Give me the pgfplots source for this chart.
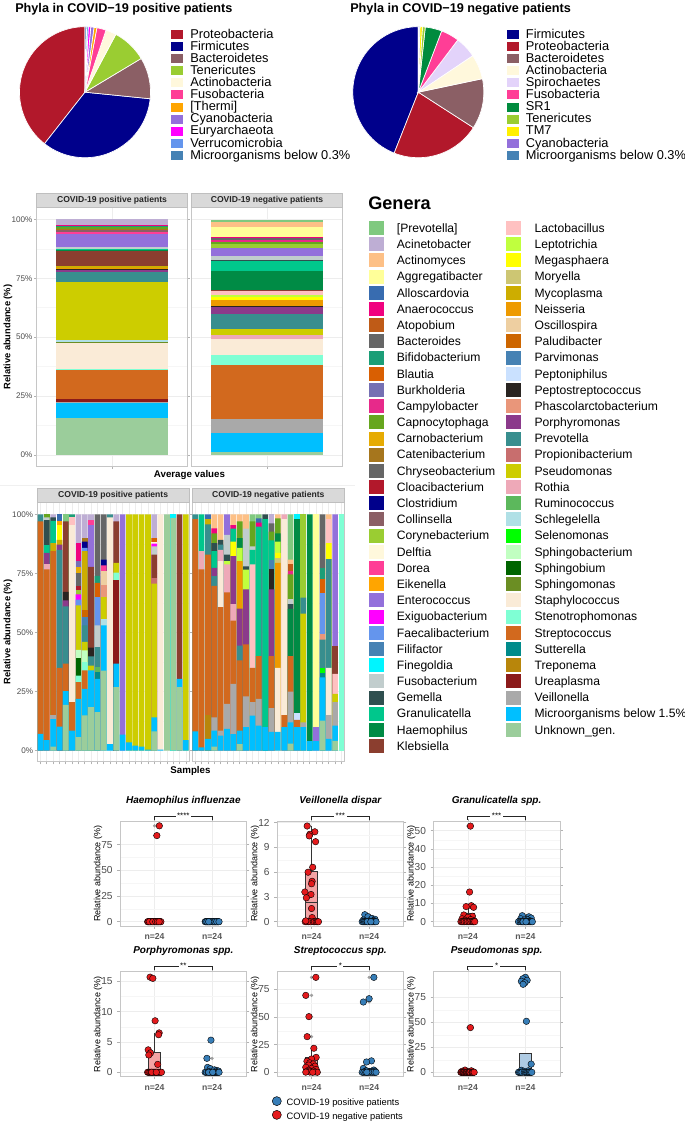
\documentclass[border=0pt]{standalone}
\usepackage{fontspec}
\setmainfont{Liberation Sans}
\usepackage{pgfplots}
\pgfplotsset{compat=1.18}
\usepgfplotslibrary{statistics}

% ---------- genera colours ----------
\definecolor{gPrevB}{HTML}{7FC97F}\definecolor{gAcin}{HTML}{BEAED4}\definecolor{gActi}{HTML}{FDC086}
\definecolor{gAggr}{HTML}{FFFF99}\definecolor{gAllo}{HTML}{386CB0}\definecolor{gAnae}{HTML}{F0027F}
\definecolor{gAtop}{HTML}{BF5B17}\definecolor{gBact}{HTML}{666666}\definecolor{gBifi}{HTML}{1B9E77}
\definecolor{gBlau}{HTML}{D95F02}\definecolor{gBurk}{HTML}{7570B3}\definecolor{gCamp}{HTML}{E7298A}
\definecolor{gCapn}{HTML}{66A61E}\definecolor{gCarn}{HTML}{E6AB02}\definecolor{gCate}{HTML}{A6761D}
\definecolor{gChry}{HTML}{666666}\definecolor{gCloa}{HTML}{B2182B}\definecolor{gClos}{HTML}{00008B}
\definecolor{gColl}{HTML}{8B5F65}\definecolor{gCory}{HTML}{9ACD32}\definecolor{gDelf}{HTML}{FFF8DC}
\definecolor{gDore}{HTML}{FF3E96}\definecolor{gEike}{HTML}{FFA500}\definecolor{gEnte}{HTML}{9370DB}
\definecolor{gExig}{HTML}{FF00FF}\definecolor{gFaec}{HTML}{6495ED}\definecolor{gFili}{HTML}{4682B4}
\definecolor{gFine}{HTML}{00F5FF}\definecolor{gFuso}{HTML}{C1CDCD}\definecolor{gGeme}{HTML}{2F4F4F}
\definecolor{gGran}{HTML}{00C78C}\definecolor{gHaem}{HTML}{008B45}\definecolor{gKleb}{HTML}{8B3E2F}
\definecolor{gLact}{HTML}{FFC1C1}\definecolor{gLept}{HTML}{C0FF3E}\definecolor{gMega}{HTML}{FFFF00}
\definecolor{gMory}{HTML}{CDC673}\definecolor{gMyco}{HTML}{CDAD00}\definecolor{gNeis}{HTML}{EE9A00}
\definecolor{gOsci}{HTML}{EECFA1}\definecolor{gPalu}{HTML}{CD6600}\definecolor{gParv}{HTML}{4682B4}
\definecolor{gPept}{HTML}{CAE1FF}\definecolor{gPstr}{HTML}{292421}\definecolor{gPhas}{HTML}{E9967A}
\definecolor{gPorp}{HTML}{8B3A8B}\definecolor{gPrev}{HTML}{388E8E}\definecolor{gProp}{HTML}{C86E6E}
\definecolor{gPseu}{HTML}{CDCD00}\definecolor{gRoth}{HTML}{EEA9B8}\definecolor{gRumi}{HTML}{5CB85C}
\definecolor{gSchl}{HTML}{B0E0E6}\definecolor{gSele}{HTML}{00FF00}\definecolor{gSbac}{HTML}{C1FFC1}
\definecolor{gSbiu}{HTML}{006400}\definecolor{gSmon}{HTML}{6B8E23}\definecolor{gStap}{HTML}{FAEBD7}
\definecolor{gSten}{HTML}{7FFFD4}\definecolor{gStre}{HTML}{D2691E}\definecolor{gSutt}{HTML}{008B8B}
\definecolor{gTrep}{HTML}{B8860B}\definecolor{gUrea}{HTML}{8B1A1A}\definecolor{gVeil}{HTML}{A9A9A9}
\definecolor{gMicr}{HTML}{00BFFF}\definecolor{gUnkn}{HTML}{9BCD9B}
% ---------- phyla colours ----------
\definecolor{pProt}{HTML}{B2182B}\definecolor{pFirm}{HTML}{00008B}\definecolor{pBact}{HTML}{8B5F65}
\definecolor{pTene}{HTML}{9ACD32}\definecolor{pActi}{HTML}{FFF8DC}\definecolor{pFuso}{HTML}{FF3E96}
\definecolor{pTher}{HTML}{FFA500}\definecolor{pCyan}{HTML}{9370DB}\definecolor{pEury}{HTML}{FF00FF}
\definecolor{pVerr}{HTML}{6495ED}\definecolor{pMicr}{HTML}{4682B4}\definecolor{pSpir}{HTML}{E3D3FA}
\definecolor{pSR}{HTML}{008B3E}\definecolor{pTM}{HTML}{FFF000}
% ---------- misc ----------
\definecolor{stripg}{HTML}{D9D9D9}\definecolor{ptred}{HTML}{E41A1C}\definecolor{ptblue}{HTML}{377EB8}
\definecolor{boxred}{HTML}{F4A3A4}\definecolor{boxblue}{HTML}{AFCBE3}

\pgfplotsset{
  /pgf/number format/assume math mode=true,
  gg/.style={scale only axis, clip=false,
    axis line style={gray!45, line width=0.5pt},
    tick style={gray!60, line width=0.5pt}, tick align=outside,
    major tick length=2pt, minor tick length=0pt,
    grid=both, major grid style={gray!14, line width=0.5pt},
    minor grid style={gray!7, line width=0.35pt},
    ticklabel style={text=black!70}},
  bars/.style={gg, ymin=-4.7, ymax=105.1, ytick={0,25,50,75,100},
    minor ytick={12.5,37.5,62.5,87.5}, xticklabels={},
    yticklabel style={font=\fontsize{6.1}{7}\selectfont, inner sep=1pt}},
  leftbars/.style={yticklabels={0\%,25\%,50\%,75\%,100\%}},
  rightbars/.style={yticklabels={}, ytick style={draw=none}},
  smp/.style={bars, xmin=0.5, xmax=24.5, xtick={1,...,24},
    every axis plot/.append style={ybar, bar width=0.9, bar shift=0pt, draw=none}},
  avg/.style={bars, xmin=0.4, xmax=1.6, xtick={1}, ybar stacked, bar width=0.9,
    every axis plot/.append style={draw=none}},
  bx/.style={gg, width=95pt, xmin=0.4, xmax=2.6, xtick={1,2}, xticklabels={{n=24},{n=24}},
    boxplot/draw direction=y,
    xticklabel style={font=\fontsize{6.5}{7}\selectfont\bfseries, text=black!65},
    yticklabel style={font=\fontsize{7.6}{8}\selectfont},
    minor y tick num=1, ylabel={Relative abundance (\%)},
    ylabel style={at={(axis description cs:-0.174,0.5)}, anchor=center, font=\fontsize{6.75}{7}\selectfont},
    title style={at={(axis description cs:0.5,1.2)}, anchor=center, yshift=-6pt, font=\fontsize{7.5}{8}\selectfont\bfseries\itshape}},
  gkey/.style={legend image code/.code={\fill[##1] (0pt,-4.6pt) rectangle (11.25pt,5.9pt);}},
  pkey/.style={legend image code/.code={\fill[##1] (0pt,-3.2pt) rectangle (9.5pt,4.3pt);}},
  ckey/.style={legend image code/.code={\draw[##1] plot coordinates {(3.4pt,1.5pt)};}},
  hid/.style={hide axis, scale only axis, width=5pt, height=5pt, xmin=0, xmax=1, ymin=0, ymax=1,
    anchor=north west, legend cell align=left},
}
\newcommand{\slice}[3]{\addplot[fill=#1, draw=white, line width=0.5pt, domain={90+3.6*#2}:{90+3.6*#3}, samples=50] ({cos(x)},{sin(x)}) -- (axis cs:0,0) -- cycle;}
\newcommand{\stripbox}{\draw[fill=stripg, draw=gray!50, line width=0.5pt] (axis description cs:0,1) rectangle (axis description cs:1,1.053);}
\newcommand{\strip}[1]{\stripbox
  \node[font=\fontsize{6.45}{7}\selectfont\bfseries, text=black!85] at (axis description cs:0.5,1.0265) {#1};}
\newcommand{\sig}[1]{\draw[black!85, line width=0.6pt] (axis description cs:0.2727,1.02) -- (axis description cs:0.2727,1.055) -- (axis description cs:0.7273,1.055) -- (axis description cs:0.7273,1.02);
  \node[fill=white, inner sep=1.2pt, font=\fontsize{6}{6}\selectfont] at (axis description cs:0.5,1.055) {#1};}
\newcommand{\G}[2]{\addlegendimage{gkey, fill=#1, draw=none}\addlegendentry{#2}}
\newcommand{\bxpts}[2]{\addplot[only marks, mark=*, mark size=2.45pt, mark options={fill=#1, draw=black, line width=0.3pt}] coordinates {#2};}
\newcommand{\outl}[1]{\addplot[only marks, mark=*, mark size=1pt, color=gray!75] coordinates {#1};}

\begin{document}
\begin{tikzpicture}
\useasboundingbox (0pt,0pt) rectangle (513.75pt,843pt);
\fill[white] (0pt,0pt) rectangle (513.75pt,843pt);

% ================= PIE CHARTS =================
\node[anchor=base west, inner sep=0pt, font=\fontsize{9.5}{10}\selectfont\bfseries] at (11.25pt,833.475pt) {Phyla in COVID−19 positive patients};
\node[anchor=base west, inner sep=0pt, font=\fontsize{9.5}{10}\selectfont\bfseries] at (262.5pt,833.475pt) {Phyla in COVID−19 negative patients};

\begin{axis}[scale only axis, hide axis, clip=false, width=98.25pt, height=98.25pt,
  xmin=-1, xmax=1, ymin=-1, ymax=1, at={(14.625pt,724.725pt)}, anchor=south west,
  every axis plot/.append style={pkey}, legend cell align=left,
  legend style={at={(1.149,0.985)}, anchor=north west, draw=none, fill=none, inner sep=0pt,
    font=\fontsize{9.6}{10}\selectfont, nodes={inner sep=0pt, text height=6.9pt, text depth=2.15pt},
    row sep=0pt, /tikz/every odd column/.append style={column sep=5pt}}]
\slice{pProt}{0}{39.4}\addlegendentry{Proteobacteria}
\slice{pFirm}{39.4}{73.4}\addlegendentry{Firmicutes}
\slice{pBact}{73.4}{83.6}\addlegendentry{Bacteroidetes}
\slice{pTene}{83.6}{92.2}\addlegendentry{Tenericutes}
\slice{pActi}{92.2}{94.8}\addlegendentry{Actinobacteria}
\slice{pFuso}{94.8}{97.1}\addlegendentry{Fusobacteria}
\slice{pTher}{97.1}{97.8}\addlegendentry{[Thermi]}
\slice{pCyan}{97.8}{98.6}\addlegendentry{Cyanobacteria}
\slice{pEury}{98.6}{99.2}\addlegendentry{Euryarchaeota}
\slice{pVerr}{99.2}{99.6}\addlegendentry{Verrucomicrobia}
\slice{pMicr}{99.6}{100}\addlegendentry{Microorganisms below 0.3\%}
\end{axis}

\begin{axis}[scale only axis, hide axis, clip=false, width=98.25pt, height=98.25pt,
  xmin=-1, xmax=1, ymin=-1, ymax=1, at={(264.6pt,724.725pt)}, anchor=south west,
  every axis plot/.append style={pkey}, legend cell align=left,
  legend style={at={(1.167,0.985)}, anchor=north west, draw=none, fill=none, inner sep=0pt,
    font=\fontsize{9.6}{10}\selectfont, nodes={inner sep=0pt, text height=6.9pt, text depth=2.15pt},
    row sep=0pt, /tikz/every odd column/.append style={column sep=5pt}}]
\slice{pFirm}{0}{44.0}\addlegendentry{Firmicutes}
\slice{pProt}{44.0}{65.9}\addlegendentry{Proteobacteria}
\slice{pBact}{65.9}{78.3}\addlegendentry{Bacteroidetes}
\slice{pActi}{78.3}{84.4}\addlegendentry{Actinobacteria}
\slice{pSpir}{84.4}{89.7}\addlegendentry{Spirochaetes}
\slice{pFuso}{89.7}{94.2}\addlegendentry{Fusobacteria}
\slice{pSR}{94.2}{98.3}\addlegendentry{SR1}
\slice{pTene}{98.3}{99.0}\addlegendentry{Tenericutes}
\slice{pTM}{99.0}{99.6}\addlegendentry{TM7}
\slice{pCyan}{99.6}{99.8}\addlegendentry{Cyanobacteria}
\slice{pMicr}{99.8}{100}\addlegendentry{Microorganisms below 0.3\%}
\end{axis}

% ================= AVERAGE VALUES =================
\node[rotate=90, font=\fontsize{7}{8}\selectfont\bfseries] at (6pt,590.25pt) {Relative abundance (\%)};
\node[font=\fontsize{7.3}{8}\selectfont\bfseries] at (142.125pt,486.75pt) {Average values};
\draw[gray!12, line width=0.5pt] (0pt,479.25pt) -- (266.25pt,479.25pt);

\begin{axis}[avg, leftbars, at={(27.525pt,493.5pt)}, anchor=south west, width=112.95pt, height=194pt]
\addplot[fill=gUnkn] coordinates {(1,15.6)};
\addplot[fill=gMicr] coordinates {(1,6.6)};
\addplot[fill=gVeil] coordinates {(1,0.4)};
\addplot[fill=gUrea] coordinates {(1,1.3)};
\addplot[fill=gStre] coordinates {(1,12.2)};
\addplot[fill=gSten] coordinates {(1,0.5)};
\addplot[fill=gStap] coordinates {(1,11.0)};
\addplot[fill=gSmon] coordinates {(1,0.5)};
\addplot[fill=gSchl] coordinates {(1,0.6)};
\addplot[fill=gPseu] coordinates {(1,24.8)};
\addplot[fill=gPrev] coordinates {(1,4.2)};
\addplot[fill=gPorp] coordinates {(1,0.7)};
\addplot[fill=gPstr] coordinates {(1,0.4)};
\addplot[fill=gNeis] coordinates {(1,0.6)};
\addplot[fill=gMyco] coordinates {(1,0.8)};
\addplot[fill=gKleb] coordinates {(1,6.4)};
\addplot[fill=gHaem] coordinates {(1,0.5)};
\addplot[fill=gGran] coordinates {(1,0.3)};
\addplot[fill=gFuso] coordinates {(1,1.0)};
\addplot[fill=gEnte] coordinates {(1,5.5)};
\addplot[fill=gDore] coordinates {(1,0.6)};
\addplot[fill=gColl] coordinates {(1,0.8)};
\addplot[fill=gCate] coordinates {(1,0.6)};
\addplot[fill=gCapn] coordinates {(1,0.8)};
\addplot[fill=gBifi] coordinates {(1,0.6)};
\addplot[fill=gAnae] coordinates {(1,0.4)};
\addplot[fill=gAcin] coordinates {(1,2.3)};
\stripbox
\end{axis}

\begin{axis}[avg, rightbars, at={(143.775pt,493.5pt)}, anchor=south west, width=112.95pt, height=194pt]
\addplot[fill=gUnkn] coordinates {(1,1.3)};
\addplot[fill=gMicr] coordinates {(1,7.9)};
\addplot[fill=gVeil] coordinates {(1,6.2)};
\addplot[fill=gStre] coordinates {(1,22.8)};
\addplot[fill=gSten] coordinates {(1,4.2)};
\addplot[fill=gStap] coordinates {(1,6.6)};
\addplot[fill=gRoth] coordinates {(1,1.8)};
\addplot[fill=gPseu] coordinates {(1,2.8)};
\addplot[fill=gPrev] coordinates {(1,6.4)};
\addplot[fill=gPorp] coordinates {(1,2.8)};
\addplot[fill=gPstr] coordinates {(1,0.6)};
\addplot[fill=gNeis] coordinates {(1,2.5)};
\addplot[fill=gMega] coordinates {(1,1.1)};
\addplot[fill=gLept] coordinates {(1,0.7)};
\addplot[fill=gLact] coordinates {(1,1.8)};
\addplot[fill=gKleb] coordinates {(1,0.6)};
\addplot[fill=gHaem] coordinates {(1,7.8)};
\addplot[fill=gGran] coordinates {(1,4.4)};
\addplot[fill=gGeme] coordinates {(1,0.6)};
\addplot[fill=gFuso] coordinates {(1,1.4)};
\addplot[fill=gEnte] coordinates {(1,3.5)};
\addplot[fill=gCory] coordinates {(1,1.8)};
\addplot[fill=gCapn] coordinates {(1,0.9)};
\addplot[fill=gCamp] coordinates {(1,0.6)};
\addplot[fill=gBact] coordinates {(1,0.9)};
\addplot[fill=gAnae] coordinates {(1,0.4)};
\addplot[fill=gAllo] coordinates {(1,0.3)};
\addplot[fill=gAggr] coordinates {(1,4.0)};
\addplot[fill=gActi] coordinates {(1,2.1)};
\addplot[fill=gPrevB] coordinates {(1,1.0)};
\stripbox
\end{axis}
\node[font=\fontsize{6.45}{7}\selectfont\bfseries, text=black!85] at (84pt,692.8pt) {COVID-19 positive patients};
\node[font=\fontsize{6.45}{7}\selectfont\bfseries, text=black!85] at (200.25pt,692.8pt) {COVID-19 negative patients};

% ================= SAMPLES =================
\node[rotate=90, font=\fontsize{7}{8}\selectfont\bfseries] at (6pt,369pt) {Relative abundance (\%)};
\node[font=\fontsize{7.3}{8}\selectfont\bfseries] at (142.875pt,264.975pt) {Samples};

\begin{axis}[smp, leftbars, at={(27.975pt,271.65pt)}, anchor=south west, width=113.8pt, height=194.6pt]
\addplot[fill=gPrevB] coordinates {(5,100)};
\addplot[fill=gAcin] coordinates {(3,100)(7,100)(8,100)(9,100)(13,100)(19,100)};
\addplot[fill=gAllo] coordinates {(4,100)};
\addplot[fill=gAnae] coordinates {(7,87.8)};
\addplot[fill=gBact] coordinates {(10,100)(11,100)};
\addplot[fill=gBifi] coordinates {(6,100)(10,74)};
\addplot[fill=gBlau] coordinates {(10,71)(19,90)};
\addplot[fill=gBurk] coordinates {(7,80.2)};
\addplot[fill=gCapn] coordinates {(2,100)};
\addplot[fill=gCarn] coordinates {(7,77.8)};
\addplot[fill=gCate] coordinates {(8,90)};
\addplot[fill=gChry] coordinates {(7,75)};
\addplot[fill=gCloa] coordinates {(7,69.6)};
\addplot[fill=gClos] coordinates {(8,88.5)(11,80.9)};
\addplot[fill=gCory] coordinates {(7,68.2)};
\addplot[fill=gDelf] coordinates {(19,88.5)};
\addplot[fill=gDore] coordinates {(9,97.6)(11,78.4)};
\addplot[fill=gEike] coordinates {(4,97.3)};
\addplot[fill=gEnte] coordinates {(9,95.5)(14,100)};
\addplot[fill=gExig] coordinates {(7,66.2)(19,87.6)};
\addplot[fill=gFaec] coordinates {(7,63.9)(8,85.8)(10,65)};
\addplot[fill=gFine] coordinates {(22,100)};
\addplot[fill=gFuso] coordinates {(2,98.7)(10,53)(19,86.5)};
\addplot[fill=gGeme] coordinates {(2,97.6)(3,98.7)};
\addplot[fill=gGran] coordinates {(2,87)(3,97.3)};
\addplot[fill=gKleb] coordinates {(5,97)(9,77.8)(13,97)(19,83)(23,100)};
\addplot[fill=gLact] coordinates {(6,98.7)};
\addplot[fill=gMega] coordinates {(4,95.5)};
\addplot[fill=gMyco] coordinates {(3,87.8)(4,89.2)(8,84.4)};
\addplot[fill=gOsci] coordinates {(11,76)};
\addplot[fill=gPalu] coordinates {(8,59.4)};
\addplot[fill=gParv] coordinates {(8,56.6)};
\addplot[fill=gPstr] coordinates {(5,67.2)(9,43.6)};
\addplot[fill=gPhas] coordinates {(11,70)};
\addplot[fill=gPorp] coordinates {(2,83.7)(4,87.2)(5,63.6)};
\addplot[fill=gPrev] coordinates {(1,100)(4,85)(5,61.1)(8,53)(9,39.9)(10,43.8)(12,100)};
\addplot[fill=gProp] coordinates {(19,73.2)};
\addplot[fill=gPseu] coordinates {(7,61.5)(8,46)(9,36)(11,65)(13,79.5)(15,100)(16,100)(17,100)(18,100)(19,70.7)(24,100)};
\addplot[fill=gRoth] coordinates {(2,78.8)};
\addplot[fill=gRumi] coordinates {(10,35.4)};
\addplot[fill=gSchl] coordinates {(11,55.9)};
\addplot[fill=gSbac] coordinates {(7,42.7)(8,42.4)};
\addplot[fill=gSbiu] coordinates {(7,39.3)};
\addplot[fill=gStap] coordinates {(6,95.5)(12,98.7)(20,100)};
\addplot[fill=gSten] coordinates {(7,31.8)(8,37.5)(13,75.3)};
\addplot[fill=gStre] coordinates {(1,97)(2,76.7)(3,84.4)(4,35)(5,36.8)(6,20.5)(7,29)(8,34)};
\addplot[fill=gSutt] coordinates {(10,33.3)};
\addplot[fill=gUrea] coordinates {(13,72.2)};
\addplot[fill=gVeil] coordinates {(3,15.3)};
\addplot[fill=gMicr] coordinates {(1,7.1)(2,4.5)(3,13.4)(4,10.2)(5,25.2)(6,8.5)(7,21.9)(8,26.2)(9,34)(10,30.4)(11,53)(12,2.8)(13,36.8)(14,6.8)(15,3.5)(16,2.1)(17,1.7)(18,0.5)(19,14.1)(20,0.5)(23,30.4)(24,4.5)};
\addplot[fill=gUnkn] coordinates {(3,1.7)(5,19.4)(7,5.7)(8,14.9)(9,18.4)(10,16.3)(11,33.9)(13,26.9)(19,8.2)(21,100)(22,98.5)(23,26.9)};
\strip{COVID-19 positive patients}
\end{axis}

\begin{axis}[smp, rightbars, at={(144pt,271.65pt)}, anchor=south west, width=114.5pt, height=194.6pt]
\addplot[fill=gPrevB] coordinates {(10,100)(11,100)(16,100)};
\addplot[fill=gAcin] coordinates {(13,100)};
\addplot[fill=gActi] coordinates {(4,100)(5,100)(7,100)(8,100)(9,100)(14,100)(16,80.9)(22,100)};
\addplot[fill=gAggr] coordinates {(20,100)};
\addplot[fill=gAllo] coordinates {(3,100)(11,98.3)};
\addplot[fill=gAnae] coordinates {(4,94.1)(7,95.5)(11,96.5)};
\addplot[fill=gAtop] coordinates {(16,78.8)};
\addplot[fill=gBact] coordinates {(13,96.2)(21,100)};
\addplot[fill=gBifi] coordinates {(21,77.4)};
\addplot[fill=gBlau] coordinates {(21,72.5)};
\addplot[fill=gCamp] coordinates {(16,76)};
\addplot[fill=gCapn] coordinates {(4,92)(8,97)(10,97)(13,92.7)(14,98.3)(16,74.6)};
\addplot[fill=gCory] coordinates {(18,100)};
\addplot[fill=gEnte] coordinates {(6,100)(20,10)(23,100)};
\addplot[fill=gFaec] coordinates {(21,66.9)};
\addplot[fill=gFine] coordinates {(17,100)};
\addplot[fill=gFuso] coordinates {(6,91.3)(9,94)(10,86.5)(16,64.1)};
\addplot[fill=gGeme] coordinates {(4,87.8)(5,89.2)(6,83)(9,78)(12,100)(16,62)};
\addplot[fill=gGran] coordinates {(2,100)(4,84.4)(7,94)(10,85)(11,94.8)(12,98)(13,89)};
\addplot[fill=gHaem] coordinates {(8,90)(14,92)(16,60)(17,98)(19,100)};
\addplot[fill=gKleb] coordinates {(23,44.5)};
\addplot[fill=gLact] coordinates {(10,78.8)(22,98)(23,32.5)};
\addplot[fill=gLept] coordinates {(6,80.2)(8,85.8)(9,76.6)(14,88.5)};
\addplot[fill=gMega] coordinates {(7,88.5)(14,83.7)(22,87.8)};
\addplot[fill=gMory] coordinates {(14,81.6)};
\addplot[fill=gMyco] coordinates {(3,98)};
\addplot[fill=gNeis] coordinates {(8,80.2)(14,79.5)};
\addplot[fill=gParv] coordinates {(13,80.9)};
\addplot[fill=gPept] coordinates {(17,16)};
\addplot[fill=gPstr] coordinates {(13,76.7)};
\addplot[fill=gPhas] coordinates {(21,49.5)};
\addplot[fill=gPorp] coordinates {(4,77.4)(7,82.3)(8,60.1)(9,68.3)(13,68.3)};
\addplot[fill=gPrev] coordinates {(1,100)(3,95.8)(4,73.9)(5,87.2)(8,44.5)(18,64.8)(21,47)(22,81.1)};
\addplot[fill=gPseu] coordinates {(18,58)(23,24)};
\addplot[fill=gRoth] coordinates {(2,84.4)(5,85)(6,78.8)(7,62)(15,100)};
\addplot[fill=gSele] coordinates {(21,35)};
\addplot[fill=gStap] coordinates {(5,80.2)(14,35)(15,98)(22,35)};
\addplot[fill=gSten] coordinates {(24,100)};
\addplot[fill=gStre] coordinates {(1,98)(2,76.7)(3,83)(4,69.7)(5,60.8)(6,67)(7,55)(8,38.2)(9,45)(10,35)(11,40)(13,40)(15,15)(16,40)(17,13)};
\addplot[fill=gSutt] coordinates {(21,33)};
\addplot[fill=gTrep] coordinates {(3,15.3)};
\addplot[fill=gVeil] coordinates {(4,14.1)(5,8.5)(6,19.8)(7,28.3)(9,23)(10,20.5)(11,21.9)(13,18)(16,25)(18,12)(22,15)(23,20.5)};
\addplot[fill=gMicr] coordinates {(1,8.2)(2,1.4)(3,5)(4,8.5)(5,6.4)(6,9.2)(7,7)(8,8.5)(9,10)(10,14.8)(11,10.6)(12,10)(13,8)(14,8)(15,10)(16,12)(17,10)(18,10)(19,4)(20,4)(21,31)(22,5)(23,10.6)};
\addplot[fill=gUnkn] coordinates {(4,1.7)(8,2.8)(16,3)(21,12.7)(23,4.2)};
\strip{COVID-19 negative patients}
\end{axis}

% ================= GENERA LEGEND =================
\node[anchor=base west, inner sep=0pt, font=\fontsize{13.6}{14}\selectfont\bfseries] at (276pt,686.1pt) {Genera};
\begin{axis}[hid, at={(276.225pt,677.55pt)},
  legend style={at={(0,1)}, anchor=north west, draw=none, fill=none, inner sep=0pt,
    font=\fontsize{9.1}{10}\selectfont, nodes={inner sep=0pt, text height=8.6pt, text depth=3.54pt},
    row sep=0pt, /tikz/every odd column/.append style={column sep=10pt}}]
\G{gPrevB}{[Prevotella]}\G{gAcin}{Acinetobacter}\G{gActi}{Actinomyces}\G{gAggr}{Aggregatibacter}
\G{gAllo}{Alloscardovia}\G{gAnae}{Anaerococcus}\G{gAtop}{Atopobium}\G{gBact}{Bacteroides}
\G{gBifi}{Bifidobacterium}\G{gBlau}{Blautia}\G{gBurk}{Burkholderia}\G{gCamp}{Campylobacter}
\G{gCapn}{Capnocytophaga}\G{gCarn}{Carnobacterium}\G{gCate}{Catenibacterium}\G{gChry}{Chryseobacterium}
\G{gCloa}{Cloacibacterium}\G{gClos}{Clostridium}\G{gColl}{Collinsella}\G{gCory}{Corynebacterium}
\G{gDelf}{Delftia}\G{gDore}{Dorea}\G{gEike}{Eikenella}\G{gEnte}{Enterococcus}
\G{gExig}{Exiguobacterium}\G{gFaec}{Faecalibacterium}\G{gFili}{Filifactor}\G{gFine}{Finegoldia}
\G{gFuso}{Fusobacterium}\G{gGeme}{Gemella}\G{gGran}{Granulicatella}\G{gHaem}{Haemophilus}
\G{gKleb}{Klebsiella}
\end{axis}
\begin{axis}[hid, at={(379.5pt,677.55pt)},
  legend style={at={(0,1)}, anchor=north west, draw=none, fill=none, inner sep=0pt,
    font=\fontsize{9.1}{10}\selectfont, nodes={inner sep=0pt, text height=8.6pt, text depth=3.54pt},
    row sep=0pt, /tikz/every odd column/.append style={column sep=10pt}}]
\G{gLact}{Lactobacillus}\G{gLept}{Leptotrichia}\G{gMega}{Megasphaera}\G{gMory}{Moryella}
\G{gMyco}{Mycoplasma}\G{gNeis}{Neisseria}\G{gOsci}{Oscillospira}\G{gPalu}{Paludibacter}
\G{gParv}{Parvimonas}\G{gPept}{Peptoniphilus}\G{gPstr}{Peptostreptococcus}\G{gPhas}{Phascolarctobacterium}
\G{gPorp}{Porphyromonas}\G{gPrev}{Prevotella}\G{gProp}{Propionibacterium}\G{gPseu}{Pseudomonas}
\G{gRoth}{Rothia}\G{gRumi}{Ruminococcus}\G{gSchl}{Schlegelella}\G{gSele}{Selenomonas}
\G{gSbac}{Sphingobacterium}\G{gSbiu}{Sphingobium}\G{gSmon}{Sphingomonas}\G{gStap}{Staphylococcus}
\G{gSten}{Stenotrophomonas}\G{gStre}{Streptococcus}\G{gSutt}{Sutterella}\G{gTrep}{Treponema}
\G{gUrea}{Ureaplasma}\G{gVeil}{Veillonella}\G{gMicr}{Microorganisms below 1.5\%}\G{gUnkn}{Unknown\_gen.}
\end{axis}

% ================= BOX PLOTS: ROW 1 =================
\begin{axis}[bx, at={(90pt,148.5pt)}, anchor=south west, height=78.2pt, ymin=-4.2, ymax=97.5,
  ytick={0,25,50,75}, title={Haemophilus influenzae}]
\addplot[boxplot prepared={draw position=1, lower whisker=0, lower quartile=0, median=0, upper quartile=0, upper whisker=0, box extend=0.21, whisker extend=0}, fill=boxred, draw=black!80, line width=0.45pt] coordinates {};
\addplot[boxplot prepared={draw position=2, lower whisker=0, lower quartile=0, median=0, upper quartile=0, upper whisker=0, box extend=0.21, whisker extend=0}, fill=boxblue, draw=black!80, line width=0.45pt] coordinates {};
\outl{(1,93.5)(1,84)}
\bxpts{ptred}{(1.083,93.5)(1.04,84)(0.88,0)(0.9,0)(0.92,0)(0.93,0)(0.95,0)(0.96,0)(0.98,0)(1,0)(1.01,0)(1.03,0)(1.04,0)(1.06,0)(1.07,0)(1.09,0)(1.1,0)(1.11,0)(0.89,0)(0.91,0)(0.97,0)(1.02,0)(1.05,0)(1.08,0)}
\bxpts{ptblue}{(1.88,0)(1.9,0)(1.92,0)(1.93,0)(1.95,0)(1.96,0)(1.98,0)(2,0)(2.01,0)(2.03,0)(2.04,0)(2.06,0)(2.07,0)(2.09,0)(2.1,0)(2.11,0)(1.89,0)(1.91,0)(1.97,0)(2.02,0)(2.05,0)(2.08,0)(2.12,0)(1.94,0)}
\sig{****}
\end{axis}

\begin{axis}[bx, at={(207.75pt,148.5pt)}, anchor=south west, height=78.2pt, ymin=-0.52, ymax=12.12,
  ytick={0,3,6,9,12}, title={Veillonella dispar}]
\addplot[boxplot prepared={draw position=1, lower whisker=0, lower quartile=0, median=2.3, upper quartile=6.15, upper whisker=11.6, box extend=0.21, whisker extend=0}, fill=boxred, draw=black!80, line width=0.45pt] coordinates {};
\addplot[boxplot prepared={draw position=2, lower whisker=0, lower quartile=0, median=0.05, upper quartile=0.2, upper whisker=0.5, box extend=0.21, whisker extend=0}, fill=boxblue, draw=black!80, line width=0.45pt] coordinates {};
\outl{(2,0.85)(2,0.6)}
\bxpts{ptred}{(0.924,11.6)(1.057,10.9)(0.97,10.6)(0.96,10.4)(1.07,9.7)(1.02,6.6)(0.94,6.0)(1.01,4.9)(1.0,4.6)(0.884,3.6)(0.99,3.3)(0.91,2.9)(1.0,1.6)(1.01,0.5)(0.89,0)(0.92,0)(0.95,0)(0.98,0)(1.03,0)(1.05,0)(1.08,0)(1.1,0)(1.12,0)(0.9,0.1)}
\bxpts{ptblue}{(1.925,0.85)(1.98,0.6)(2.05,0.4)(2.1,0.3)(1.9,0.2)(2.08,0.15)(2.0,0.1)(1.95,0.05)(1.88,0)(1.9,0)(1.92,0)(1.94,0)(1.96,0)(1.98,0)(2,0)(2.02,0)(2.04,0)(2.06,0)(2.07,0)(2.09,0)(2.11,0)(2.12,0)(1.97,0)(2.03,0)}
\sig{***}
\end{axis}

\begin{axis}[bx, at={(324.975pt,148.5pt)}, anchor=south west, height=78.2pt, ymin=-2.36, ymax=54.9,
  ytick={0,10,20,30,40,50}, title={Granulicatella spp.}]
\addplot[boxplot prepared={draw position=1, lower whisker=0, lower quartile=0.2, median=2.0, upper quartile=4.4, upper whisker=8.8, box extend=0.21, whisker extend=0}, fill=boxred, draw=black!80, line width=0.45pt] coordinates {};
\addplot[boxplot prepared={draw position=2, lower whisker=0, lower quartile=0, median=0.3, upper quartile=1.2, upper whisker=2.7, box extend=0.21, whisker extend=0}, fill=boxblue, draw=black!80, line width=0.45pt] coordinates {};
\outl{(1,52.5)(1,16.3)(2,3.3)}
\bxpts{ptred}{(1.045,52.5)(1.03,16.3)(1.06,8.8)(0.97,8.3)(1.1,7.9)(0.93,3.7)(1.08,3.0)(1.0,2.4)(0.9,1.6)(1.05,1.2)(0.95,0.8)(1.11,0.5)(0.88,0)(0.9,0)(0.92,0)(0.94,0)(0.97,0)(0.99,0)(1.02,0)(1.04,0)(1.07,0)(1.09,0)(1.1,0)(1.12,0)}
\bxpts{ptblue}{(1.945,3.3)(2.06,2.7)(2.1,2.0)(1.92,1.6)(2.03,1.2)(1.98,0.9)(2.08,0.5)(1.9,0.3)(1.88,0)(1.91,0)(1.93,0)(1.95,0)(1.97,0)(1.99,0)(2,0)(2.02,0)(2.04,0)(2.05,0)(2.07,0)(2.09,0)(2.11,0)(2.12,0)(1.96,0)(2.01,0)}
\sig{***}
\end{axis}

% ================= BOX PLOTS: ROW 2 =================
\begin{axis}[bx, at={(90pt,35.475pt)}, anchor=south west, height=78.75pt, ymin=-0.73, ymax=16.6,
  ytick={0,5,10,15}, title={Porphyromonas spp.}]
\addplot[boxplot prepared={draw position=1, lower whisker=0, lower quartile=0, median=0.05, upper quartile=3.25, upper whisker=6.5, box extend=0.21, whisker extend=0}, fill=boxred, draw=black!80, line width=0.45pt] coordinates {};
\addplot[boxplot prepared={draw position=2, lower whisker=0, lower quartile=0, median=0.05, upper quartile=0.3, upper whisker=0.8, box extend=0.21, whisker extend=0}, fill=boxblue, draw=black!80, line width=0.45pt] coordinates {};
\outl{(1,15.7)(1,15.5)(1,8.5)(2,5.3)(2,2.3)}
\bxpts{ptred}{(0.922,15.7)(0.97,15.5)(1.01,8.5)(1.08,6.5)(1.07,6.2)(0.89,3.7)(0.93,3.2)(0.9,2.85)(1.055,1.3)(0.88,0)(0.9,0)(0.92,0)(0.94,0)(0.96,0)(0.98,0)(1,0)(1.02,0)(1.04,0)(1.06,0)(1.08,0)(1.1,0)(1.12,0)(0.95,0)(1.03,0)}
\bxpts{ptblue}{(1.98,5.3)(1.91,2.3)(1.92,0.8)(1.97,0.6)(2.04,0.4)(2.08,0.3)(2.11,0.2)(1.95,0.1)(1.88,0)(1.9,0)(1.93,0)(1.96,0)(1.99,0)(2,0)(2.02,0)(2.03,0)(2.05,0)(2.06,0)(2.07,0)(2.09,0)(2.1,0)(2.12,0)(1.94,0)(2.01,0)}
\sig{**}
\end{axis}

\begin{axis}[bx, at={(207.75pt,35.475pt)}, anchor=south west, height=78.75pt, ymin=-4.0, ymax=90.9,
  ytick={0,25,50,75}, title={Streptococcus spp.}]
\addplot[boxplot prepared={draw position=1, lower whisker=0, lower quartile=0.8, median=7.0, upper quartile=13.2, upper whisker=21.7, box extend=0.21, whisker extend=0}, fill=boxred, draw=black!80, line width=0.45pt] coordinates {};
\addplot[boxplot prepared={draw position=2, lower whisker=0, lower quartile=0, median=0.2, upper quartile=1.5, upper whisker=3.5, box extend=0.21, whisker extend=0}, fill=boxblue, draw=black!80, line width=0.45pt] coordinates {};
\outl{(1,85.8)(1,69.5)(1,50.3)(1,32.2)(2,85.8)(2,66.5)(2,63.5)(2,10.3)(2,9.3)}
\bxpts{ptred}{(1.075,85.8)(0.9,69.5)(0.955,50.3)(0.924,32.2)(1.04,21.7)(1.08,13.5)(1.0,12)(0.92,10)(0.97,8.5)(1.03,7.5)(0.95,6.5)(1.06,5.5)(0.9,4.5)(1.0,3.5)(1.08,2.5)(0.95,1.8)(1.03,1.2)(0.92,0.8)(1.0,0.5)(1.06,0.3)(0.97,0.2)(0.9,0.1)(1.1,0)(1.02,0)}
\bxpts{ptblue}{(2.082,85.8)(2.0,66.5)(1.9,63.5)(2.04,10.3)(1.955,9.3)(1.9,3.5)(2.08,2)(1.95,1.5)(2.1,1)(2.02,0.7)(1.92,0.5)(2.05,0.3)(1.98,0.2)(2.1,0.1)(1.88,0)(1.91,0)(1.94,0)(1.97,0)(2,0)(2.03,0)(2.06,0)(2.09,0)(2.12,0)(1.96,0)}
\sig{*}
\end{axis}

\begin{axis}[bx, at={(324.975pt,35.475pt)}, anchor=south west, height=78.75pt, ymin=-4.4, ymax=100.6,
  ytick={0,25,50,75}, title={Pseudomonas spp.}]
\addplot[boxplot prepared={draw position=1, lower whisker=0, lower quartile=0, median=0, upper quartile=0, upper whisker=0, box extend=0.21, whisker extend=0}, fill=boxred, draw=black!80, line width=0.45pt] coordinates {};
\addplot[boxplot prepared={draw position=2, lower whisker=0, lower quartile=0, median=0.5, upper quartile=19, upper whisker=19, box extend=0.21, whisker extend=0}, fill=boxblue, draw=black!80, line width=0.45pt] coordinates {};
\outl{(1,44.7)(1,2.2)(2,95)(2,93.5)(2,92)(2,91)(2,89.5)(2,88)(2,51)}
\bxpts{ptred}{(1.045,44.7)(0.95,2.2)(1.06,1.5)(0.9,1.0)(1.0,0.6)(1.1,0.3)(0.88,0)(0.89,0)(0.91,0)(0.92,0)(0.93,0)(0.94,0)(0.96,0)(0.97,0)(0.98,0)(0.99,0)(1.01,0)(1.02,0)(1.03,0)(1.04,0)(1.07,0)(1.08,0)(1.09,0)(1.11,0)}
\bxpts{ptblue}{(2.0,95)(1.955,93.5)(2.03,92)(1.93,91)(1.99,89.5)(1.96,88)(2.017,51)(2.1,8.2)(1.93,2)(2.05,1.5)(1.97,1)(2.08,0.5)(1.88,0)(1.9,0)(1.92,0)(1.94,0)(1.98,0)(2,0)(2.02,0)(2.04,0)(2.06,0)(2.07,0)(2.09,0)(2.11,0)}
\sig{*}
\end{axis}

% ================= BOX LEGEND =================
\begin{axis}[hid, at={(204pt,21pt)},
  legend style={at={(0,1)}, anchor=north west, draw=none, fill=none, inner sep=0pt,
    font=\fontsize{7}{8}\selectfont, nodes={inner sep=0pt, text height=7pt, text depth=3.3pt},
    row sep=0pt, /tikz/every odd column/.append style={column sep=4pt}}]
\addlegendimage{ckey, only marks, mark=*, mark size=3.4pt, mark options={fill=ptblue, draw=black, line width=0.35pt}}
\addlegendentry{COVID-19 positive patients}
\addlegendimage{ckey, only marks, mark=*, mark size=3.4pt, mark options={fill=ptred, draw=black, line width=0.35pt}}
\addlegendentry{COVID-19 negative patients}
\end{axis}
\end{tikzpicture}
\end{document}
